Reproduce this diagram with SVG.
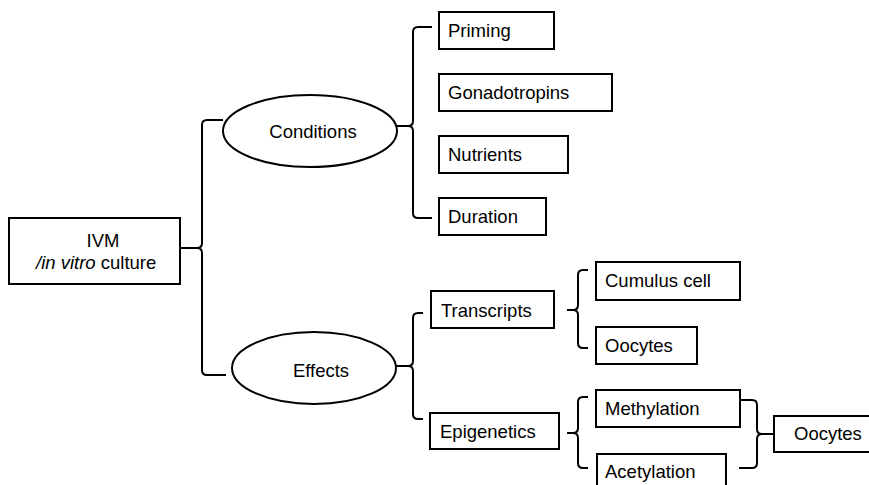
<svg xmlns="http://www.w3.org/2000/svg" width="869" height="485" viewBox="0 0 869 485">
<style>
.box{fill:#fff;stroke:#000;stroke-width:2}
.ell{fill:#fff;stroke:#000;stroke-width:2}
.br{fill:none;stroke:#000;stroke-width:2}
text{font-family:"Liberation Sans",Arial,sans-serif;font-size:18.5px;fill:#000}
</style>
<rect width="869" height="485" fill="#fff"/>
<g id="connectors">
<path class="br" d="M223,120 H207 Q202,120 202,125 V243 Q202,248 197,248 H180 M197,248 Q202,248 202,253 V370 Q202,375 207,375 H226"/>
<path class="br" d="M432,27 H418 Q413,27 413,32 V121 Q413,126 408,126 H397 M408,126 Q413,126 413,131 V213 Q413,218 418,218 H432"/>
<path class="br" d="M423,313 H418 Q413,313 413,318 V361 Q413,366 408,366 H396 M408,366 Q413,366 413,371 V414 Q413,419 418,419 H423"/>
<path class="br" d="M588,270 H583 Q578,270 578,275 V305 Q578,310 573,310 H567 M573,310 Q578,310 578,315 V343 Q578,348 583,348 H588"/>
<path class="br" d="M588,397 H583 Q578,397 578,402 V428 Q578,433 573,433 H567 M573,433 Q578,433 578,438 V463 Q578,468 583,468 H588"/>
<path class="br" d="M740,400 H752 Q757,400 757,405 V429 Q757,434 762,434 H774 M762,434 Q757,434 757,439 V463 Q757,468 752,468 H739"/>
</g>
<g id="ivm"><rect class="box" x="9" y="218" width="171" height="66"/><text x="103" y="247" text-anchor="middle">IVM</text><text x="36" y="269"><tspan font-style="italic">/in vitro</tspan> culture</text></g>
<g id="conditions"><ellipse class="ell" cx="310" cy="131" rx="87" ry="36"/><text x="313" y="138" text-anchor="middle">Conditions</text></g>
<g id="effects"><ellipse class="ell" cx="314" cy="368" rx="82" ry="36"/><text x="321" y="377" text-anchor="middle">Effects</text></g>
<g id="priming"><rect class="box" x="439" y="12" width="115" height="37"/><text x="448" y="37">Priming</text></g>
<g id="gonadotropins"><rect class="box" x="439" y="74" width="173" height="37"/><text x="448" y="99">Gonadotropins</text></g>
<g id="nutrients"><rect class="box" x="439" y="136" width="129" height="37"/><text x="448" y="161">Nutrients</text></g>
<g id="duration"><rect class="box" x="439" y="198" width="107" height="37"/><text x="448" y="223">Duration</text></g>
<g id="transcripts"><rect class="box" x="431" y="291" width="123" height="37"/><text x="441" y="317">Transcripts</text></g>
<g id="epigenetics"><rect class="box" x="430" y="413" width="129" height="36"/><text x="440" y="438">Epigenetics</text></g>
<g id="cumulus"><rect class="box" x="596" y="262" width="144" height="38"/><text x="605" y="287">Cumulus cell</text></g>
<g id="oocytes1"><rect class="box" x="596" y="327" width="101" height="37"/><text x="605" y="352">Oocytes</text></g>
<g id="methylation"><rect class="box" x="596" y="390" width="144" height="37"/><text x="605" y="415">Methylation</text></g>
<g id="acetylation"><rect class="box" x="597" y="454" width="129" height="40"/><text x="605" y="478">Acetylation</text></g>
<g id="oocytes2"><rect class="box" x="774" y="416" width="100" height="36"/><text x="794" y="440">Oocytes</text></g>
</svg>
